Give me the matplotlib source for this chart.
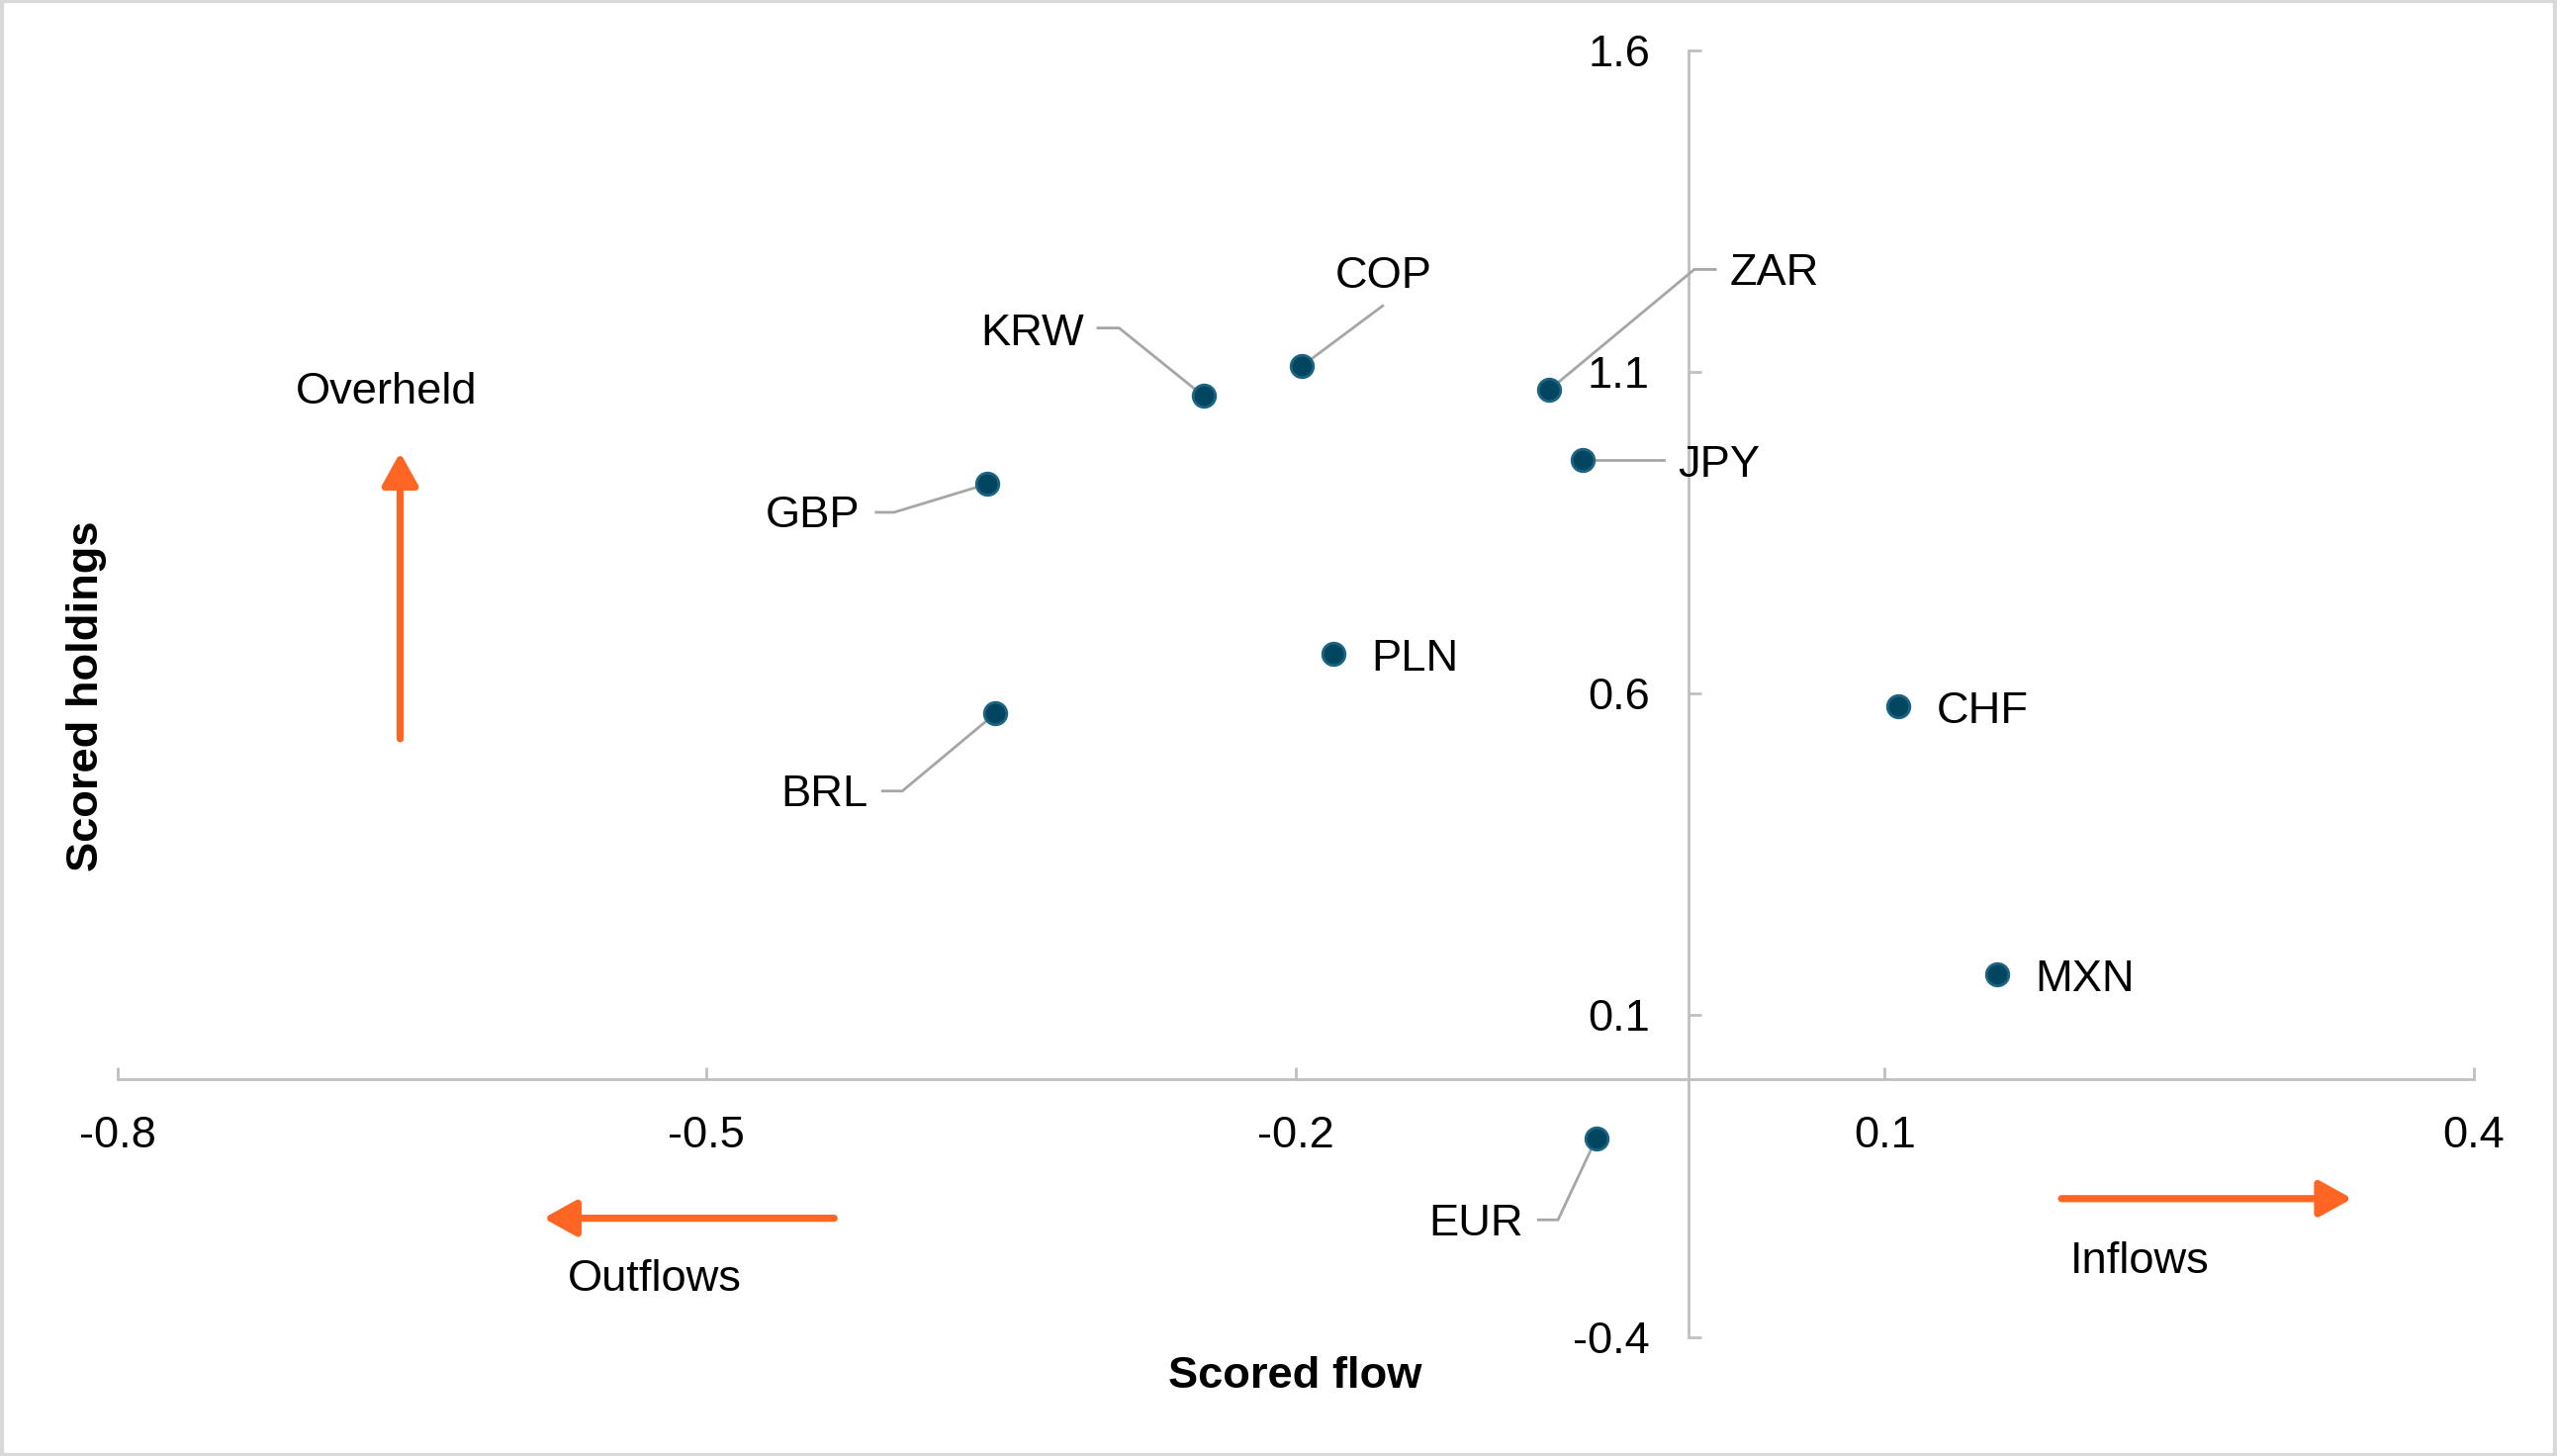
import matplotlib
matplotlib.use("Agg")
import matplotlib.pyplot as plt
from matplotlib.patches import Rectangle

plt.rcParams['font.family'] = ['Liberation Sans', 'DejaVu Sans']
plt.rcParams['axes.unicode_minus'] = False

# -----------------------------
# data
# -----------------------------
currencies = ['KRW', 'COP', 'ZAR', 'JPY', 'GBP', 'PLN', 'BRL', 'CHF', 'MXN', 'EUR']
scored_flow = [-0.247, -0.197, -0.071, -0.054, -0.357, -0.181, -0.353, 0.107, 0.157, -0.047]
scored_holdings = [1.063, 1.109, 1.072, 0.963, 0.926, 0.662, 0.569, 0.581, 0.164, -0.092]

xticks = [-0.8, -0.5, -0.2, 0.1, 0.4]
yticks = [-0.4, 0.1, 0.6, 1.1, 1.6]

# label placement: text centre + leader polyline (others sit right of the dot)
label_pos = {
    'KRW': ((-0.334, 1.160), [(-0.3007, 1.1686), (-0.2899, 1.1686)]),
    'COP': ((-0.1553, 1.249), [(-0.1557, 1.203)]),
    'ZAR': ((0.044, 1.254), [(0.0137, 1.2596), (0.003, 1.2596)]),
    'JPY': ((0.0158, 0.955), [(-0.0125, 0.963)]),
    'GBP': ((-0.446, 0.876), [(-0.4136, 0.882), (-0.4045, 0.882)]),
    'BRL': ((-0.440, 0.4427), [(-0.4103, 0.4487), (-0.4003, 0.4487)]),
    'EUR': ((-0.108, -0.224), [(-0.0764, -0.218), (-0.0664, -0.218)]),
}

DOT = '#004661'
DOT_EDGE = '#1D6483'
ORANGE = '#FF6624'
AXCOL = '#BFBFBF'
FS = 16.3

fig = plt.figure(figsize=(12.925, 7.36), dpi=200)
ax = fig.add_axes([0.0459, 0.0818, 0.9216, 0.8835])

ax.scatter(scored_flow, scored_holdings, s=66, color=DOT, edgecolors=DOT_EDGE,
           linewidths=1.0, zorder=5)

for name, x, y in zip(currencies, scored_flow, scored_holdings):
    if name in label_pos:
        (tx, ty), pts = label_pos[name]
        xs = [p[0] for p in pts] + [x]
        ys = [p[1] for p in pts] + [y]
        ax.plot(xs, ys, color='#A6A6A6', lw=1.0, zorder=4)
        ax.text(tx, ty, name, fontsize=FS, ha='center', va='center')
    else:
        ax.annotate(name, (x, y), xytext=(14, -2), textcoords='offset points',
                    fontsize=FS, ha='left', va='center')

# axes crossing at the origin
ax.set_xlim(-0.8, 0.4)
ax.set_ylim(-0.4, 1.6)
ax.spines['left'].set_position(('data', 0))
ax.spines['bottom'].set_position(('data', 0))
ax.spines['right'].set_visible(False)
ax.spines['top'].set_visible(False)
for s in ('left', 'bottom'):
    ax.spines[s].set_color(AXCOL)
    ax.spines[s].set_linewidth(1.0)
ax.set_xticks(xticks)
ax.set_yticks(yticks)
ax.set_xticklabels([f'{v:g}' for v in xticks])
ax.set_yticklabels([f'{v:g}' for v in yticks])
ax.tick_params(axis='x', direction='in', length=4.5, width=1.0, color=AXCOL,
               labelsize=FS, pad=13)
ax.tick_params(axis='y', direction='in', length=4.5, width=1.0, color=AXCOL,
               labelsize=FS, pad=14)

# orange direction arrows
arrow = dict(arrowstyle='-|>,head_length=0.45,head_width=0.25', color=ORANGE,
             lw=2.6, mutation_scale=22, shrinkA=0, shrinkB=0)
ax.annotate('', xy=(-0.656, 0.975), xytext=(-0.656, 0.530), arrowprops=arrow)
ax.annotate('', xy=(-0.583, -0.2155), xytext=(-0.435, -0.2155), arrowprops=arrow)
ax.annotate('', xy=(0.338, -0.185), xytext=(0.190, -0.185), arrowprops=arrow)
ax.text(-0.663, 1.069, 'Overheld', fontsize=FS, ha='center', va='center')
ax.text(-0.5266, -0.310, 'Outflows', fontsize=FS, ha='center', va='center')
ax.text(0.230, -0.283, 'Inflows', fontsize=FS, ha='center', va='center')

# axis titles
fig.text(0.5063, 0.0545, 'Scored flow', fontsize=FS, fontweight='bold',
         ha='center', va='center')
fig.text(0.0340, 0.522, 'Scored holdings', fontsize=FS, fontweight='bold',
         ha='center', va='center', rotation=90)

# light frame round the whole picture
fig.patches.append(Rectangle((0.0006, 0.001), 0.9988, 0.998, transform=fig.transFigure,
                             fill=False, edgecolor='#D9D9D9', lw=1.5))

fig.savefig('out.png', dpi=200)
